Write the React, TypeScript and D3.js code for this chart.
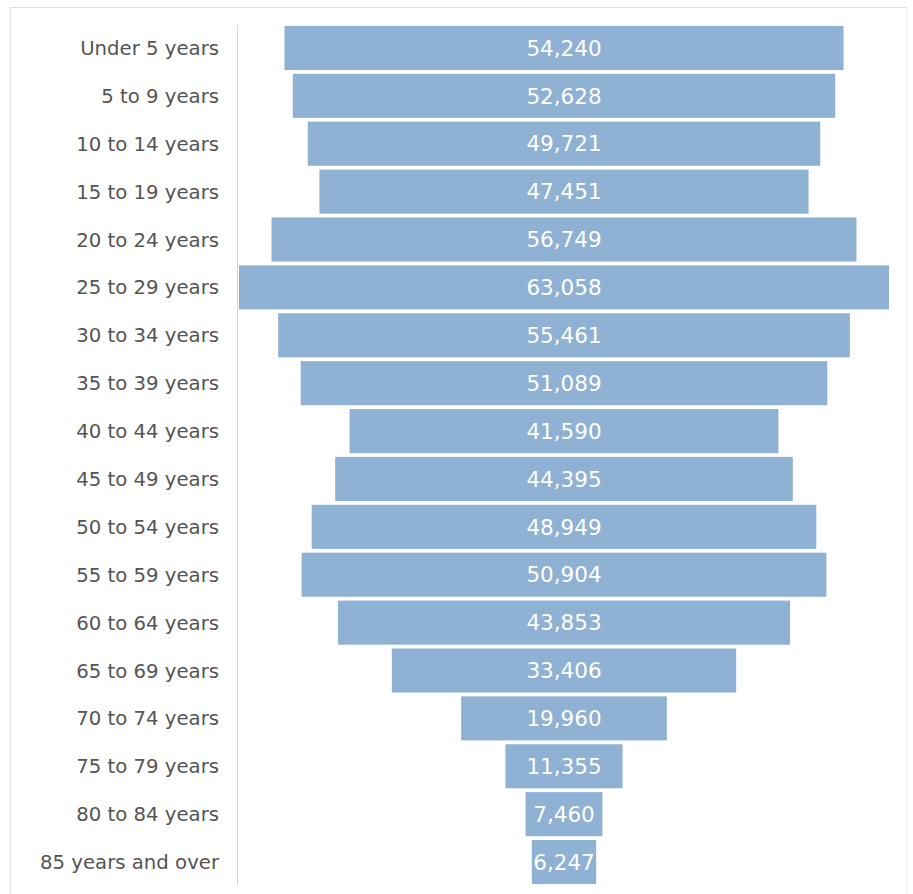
import React from "react";
import * as d3 from "d3";

const categories = [
  "Under 5 years", "5 to 9 years", "10 to 14 years", "15 to 19 years",
  "20 to 24 years", "25 to 29 years", "30 to 34 years", "35 to 39 years",
  "40 to 44 years", "45 to 49 years", "50 to 54 years", "55 to 59 years",
  "60 to 64 years", "65 to 69 years", "70 to 74 years", "75 to 79 years",
  "80 to 84 years", "85 years and over",
];
const values = [
  54240, 52628, 49721, 47451, 56749, 63058, 55461, 51089, 41590,
  44395, 48949, 50904, 43853, 33406, 19960, 11355, 7460, 6247,
];

const W = 913;
const H = 894;
const centerX = 564;
const maxWidth = 650;

export default function App() {
  const y = d3.scaleBand<string>().domain(categories).range([24, 886]).paddingInner(0.08).paddingOuter(0.04);
  const w = d3.scaleLinear().domain([0, d3.max(values) as number]).range([0, maxWidth]);
  const fmt = d3.format(",");
  const font = "'DejaVu Sans', sans-serif";
  return (
    <svg width={W} height={H} style={{ position: "absolute", left: 0, top: 0 }}>
      <rect x={0} y={0} width={W} height={H} fill="#fff" />
      <line x1={10} x2={907} y1={7.5} y2={7.5} stroke="#dedede" />
      <line x1={10.5} x2={10.5} y1={7} y2={894} stroke="#e4e4e4" />
      <line x1={906.5} x2={906.5} y1={7} y2={894} stroke="#f0f0f0" />
      <line x1={237.5} x2={237.5} y1={25} y2={886} stroke="#d6d6d6" />
      {categories.map((c, i) => {
        const bw = w(values[i]);
        const by = y(c) as number;
        const bh = y.bandwidth();
        return (
          <g key={c}>
            <rect x={centerX - bw / 2} y={by} width={bw} height={bh} fill="#8fb1d4" />
            <text x={219} y={by + bh / 2} dy="0.36em" textAnchor="end" fontFamily={font} fontSize={19.7} fill="#555">
              {c}
            </text>
            <text x={centerX} y={by + bh / 2} dy="0.36em" textAnchor="middle" fontFamily={font} fontSize={21.5} fill="#fff">
              {fmt(values[i])}
            </text>
          </g>
        );
      })}
    </svg>
  );
}
